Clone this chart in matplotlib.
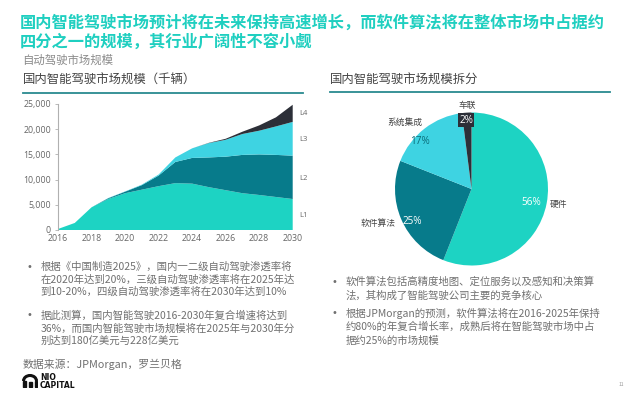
import matplotlib
matplotlib.use("Agg")
import matplotlib.pyplot as plt
import numpy as np
from matplotlib.ticker import FuncFormatter
from matplotlib.patches import Arc, Rectangle

plt.rcParams['font.family'] = ['Noto Sans CJK SC', 'DejaVu Sans']

# ---- data ----
years = list(range(2016, 2031))
L1 = [200, 1400, 4500, 6150, 7300, 8000, 8700, 9300, 9200, 8500, 7900, 7300, 6950, 6550, 6150]
L2 = [0, 0, 0, 150, 300, 900, 2100, 4200, 5100, 5900, 6650, 7600, 8050, 8350, 8600]
L3 = [0, 0, 0, 50, 50, 100, 200, 900, 1900, 2850, 3350, 4150, 4700, 5650, 6700]
L4 = [0, 0, 0, 0, 0, 0, 0, 0, 0, 50, 200, 450, 1050, 1800, 3400]
level_labels = ['L1', 'L2', 'L3', 'L4']
yticks = [0, 5000, 10000, 15000, 20000, 25000]
xticks = [2016, 2018, 2020, 2022, 2024, 2026, 2028, 2030]

pie_labels = ['硬件', '软件算法', '系统集成', '车联']
pie_values = [56, 25, 17, 2]

title_lines = ["国内智能驾驶市场预计将在未来保持高速增长，而软件算法将在整体市场中占据约",
               "四分之一的规模，其行业广阔性不容小觑"]
subtitle = "自动驾驶市场规模"
left_title = "国内智能驾驶市场规模（千辆）"
right_title = "国内智能驾驶市场规模拆分"
left_bullets = [
    ["根据《中国制造2025》，国内一二级自动驾驶渗透率将",
     "在2020年达到20%，三级自动驾驶渗透率将在2025年达",
     "到10-20%，四级自动驾驶渗透率将在2030年达到10%"],
    ["据此测算，国内智能驾驶2016-2030年复合增速将达到",
     "36%，而国内智能驾驶市场规模将在2025年与2030年分",
     "别达到180亿美元与228亿美元"],
]
right_bullets = [
    ["软件算法包括高精度地图、定位服务以及感知和决策算",
     "法，其构成了智能驾驶公司主要的竞争核心"],
    ["根据JPMorgan的预测，软件算法将在2016-2025年保持",
     "约80%的年复合增长率，成熟后将在智能驾驶市场中占",
     "据约25%的市场规模"],
]
source = "数据来源：JPMorgan，罗兰贝格"

# ---- style ----
C1 = '#1DD3C3'
C2 = '#077B8B'
C3 = '#3ED3E2'
C4 = '#2C2F38'
TEAL = '#1FCFC0'
GREY = '#707070'

W, H = 640, 398
fig = plt.figure(figsize=(6.4, 3.98), dpi=100)
fig.patch.set_facecolor('white')

def fx(px):
    return px / W

def fy(py):
    return 1 - py / H

# titles
fig.text(fx(20), fy(22), title_lines[0], color=TEAL, fontsize=11.7, fontweight='bold', va='center', ha='left')
fig.text(fx(20), fy(41), title_lines[1], color=TEAL, fontsize=11.7, fontweight='bold', va='center', ha='left')
fig.text(fx(22), fy(60.5), subtitle, color='#8a8a8a', fontsize=8.2, va='center', ha='left')

fig.text(fx(23), fy(80.5), left_title, color='#444444', fontsize=8.9, va='center', ha='left')
fig.text(fx(330), fy(80), right_title, color='#444444', fontsize=8.9, va='center', ha='left')
fig.add_artist(plt.Line2D([fx(23), fx(303)], [fy(93), fy(93)], color='#2a8a90', lw=1.3))
fig.add_artist(plt.Line2D([fx(330), fx(610)], [fy(92), fy(92)], color='#2a8a90', lw=1.3))

# ---- stacked area ----
ax = fig.add_axes([fx(58), fy(230), fx(292.7) - fx(58), (230 - 104) / H])
ax.stackplot(years, L1, L2, L3, L4, colors=[C1, C2, C3, C4], linewidth=0)
ax.set_xlim(2016, 2030)
ax.set_ylim(0, 25000)
ax.set_yticks(yticks)
ax.set_xticks(xticks)
ax.yaxis.set_major_formatter(FuncFormatter(lambda v, p: f"{int(v):,}"))
for s in ['top', 'right', 'bottom']:
    ax.spines[s].set_visible(False)
ax.spines['left'].set_color('#b0b0b0')
ax.spines['left'].set_linewidth(0.8)
ax.tick_params(axis='y', length=2, width=0.6, color='#b0b0b0', labelsize=6.3, labelcolor='#666666', pad=3)
ax.tick_params(axis='x', length=0, labelsize=6.3, labelcolor='#666666', pad=3)
for lab in ax.get_xticklabels() + ax.get_yticklabels():
    lab.set_family(['Open Sans', 'DejaVu Sans'])

label_y = [2840, 10300, 18050, 23150]
for lbl, yv in zip(level_labels, label_y):
    ax.text(1.03, yv, lbl, transform=ax.get_yaxis_transform(), fontsize=5.5, color='#666666',
            va='center', ha='left', family=['Open Sans', 'DejaVu Sans'])

# ---- pie ----
cx, cy, r = 471.5, 189, 76.5
pax = fig.add_axes([fx(cx - r), fy(cy + r), 2 * r / W, 2 * r / H])
wedges, _ = pax.pie(pie_values, colors=[C1, C2, C3, C4], startangle=90, counterclock=False,
                    radius=1.0, wedgeprops=dict(linewidth=0))
pax.set_xlim(-1, 1)
pax.set_ylim(-1, 1)
pax.set_aspect('auto')
pax.axis('off')

pct_pos = [(0.78, -0.18), (-0.78, -0.43), (-0.68, 0.62), (-0.07, 0.90)]
pct_col = ['white', 'white', '#0b6d7a', 'white']
for i, (v, (px, py), c) in enumerate(zip(pie_values, pct_pos, pct_col)):
    kw = {}
    if i == 3:
        kw['bbox'] = dict(boxstyle='square,pad=0.12', facecolor=C4, edgecolor='none')
    pax.text(px, py, f"{v}%", color=c, fontsize=7.2, ha='center', va='center',
             family=['Open Sans', 'DejaVu Sans'], **kw)

# outside labels (figure pixels)
out_pos = [(558, 205), (378, 223), (405, 122), (467, 105)]
for lbl, (px, py) in zip(pie_labels, out_pos):
    fig.text(fx(px), fy(py), lbl, color='#444444', fontsize=6.3, ha='center', va='center')

# ---- bullets ----
def bullets(groups, xb, xt, starts, dy):
    for g, y0 in zip(groups, starts):
        fig.text(fx(xb), fy(y0), '•', color=GREY, fontsize=7, ha='center', va='center',
                 family=['DejaVu Sans'])
        for i, line in enumerate(g):
            fig.text(fx(xt), fy(y0 + i * dy), line, color=GREY, fontsize=7.5, ha='left', va='center')

bullets(left_bullets, 29, 40.5, [266.5, 315.5], 12.8)
bullets(right_bullets, 334, 346, [282, 313], 13.6)

fig.text(fx(23), fy(364), source, color=GREY, fontsize=7.8, ha='left', va='center')

# logo
fig.text(fx(40), fy(377), 'NIO', color='#111111', fontsize=5.5, fontweight='bold', ha='left', va='center',
         family=['DejaVu Sans'])
fig.text(fx(40), fy(385.5), 'CAPITAL', color='#111111', fontsize=5.5, fontweight='bold', ha='left', va='center',
         family=['DejaVu Sans'])
lax = fig.add_axes([fx(22), fy(388), 16 / W, 16 / H])
lax.set_xlim(0, 16)
lax.set_ylim(0, 16)
lax.axis('off')
lax.add_patch(Arc((8, 7), 13, 11, theta1=0, theta2=180, lw=2.2, color='#111111'))
lax.add_patch(Rectangle((1.2, 1.5), 2.3, 5.5, color='#111111'))
lax.add_patch(Rectangle((12.5, 1.5), 2.3, 5.5, color='#111111'))
lax.add_patch(Rectangle((6.5, 1.5), 3, 4.5, color='#111111'))

fig.text(fx(621), fy(384), '11', color='#999999', fontsize=3.5, ha='center', va='center')

fig.savefig('out.png', dpi=100, facecolor='white')
